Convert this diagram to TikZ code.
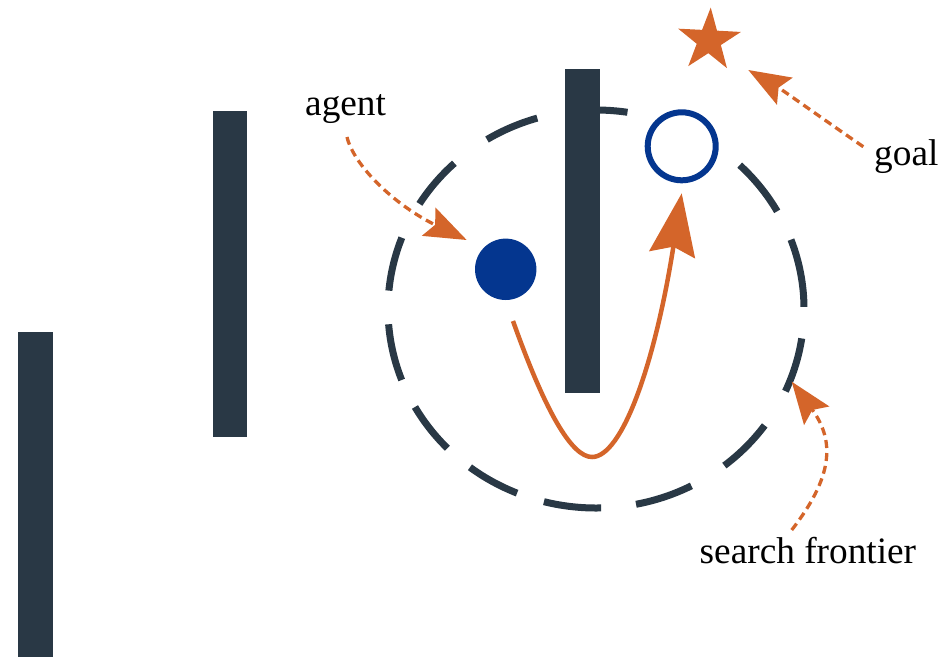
\documentclass[tikz,border=0pt]{standalone}
\usepackage{fontspec}
\setmainfont{Liberation Serif}
\usetikzlibrary{arrows.meta,shapes.geometric,calc}
\definecolor{wallcol}{HTML}{293845}
\definecolor{accent}{HTML}{D4652A}
\definecolor{agentblue}{HTML}{04368F}
\begin{document}
\begin{tikzpicture}[x=1pt,y=-1pt,
  wall/.style={fill=wallcol},
  frontier/.style={draw=wallcol,line width=7pt,line cap=butt},
  agentdot/.style={circle,fill=agentblue,minimum size=61.4pt,inner sep=0pt},
  goalring/.style={circle,draw=agentblue,fill=white,line width=6pt,minimum size=68pt,inner sep=0pt},
  goalstar/.style={star,star points=5,star point ratio=2.6,fill=accent,minimum size=66pt,inner sep=0pt,rotate=-3},
  lbl/.style={font=\fontsize{37.3}{44}\selectfont,inner sep=0pt,anchor=base west},
  route/.style={draw=accent,line width=4.5pt,-{Stealth[length=62pt,width=46pt,inset=8pt]}},
  annot/.style={draw=accent,line width=3.3pt,dash pattern=on 8pt off 5pt,-{Stealth[length=42pt,width=31pt,inset=7pt]}},
]
\useasboundingbox (0,0) rectangle (949,657);

% search frontier: dashes of an ellipse round the agent (angles in degrees)
\foreach \a/\b in {-20.4/-0.6, 8.5/24.4, 35.8/51.9, 62.7/78.9, 88.6/104.5,
                   112.3/127.3, 135.6/150.5, 159.1/175.6, 185.3/201, 211.9/227.1,
                   238.4/253.6, 263/278.7, 288.5/304, 313.7/330.6}
  \draw[frontier] plot[domain=\a:\b, samples=24, smooth] ({596+208*cos(\x)},{309+199*sin(\x)});

% walls
\fill[wall] (18.3,331.7) rectangle (52.7,657);
\fill[wall] (212.7,111) rectangle (247.3,436.7);
\fill[wall] (565,69) rectangle (600,393.3);

% agent, sub-goal and goal
\node[goalring] (goal) at (681.7,146.3) {};
\node[agentdot] (agent) at (505.7,269.3) {};
\node[goalstar] (star) at (709,40.5) {};

% labels
\node[lbl] (agentlbl) at (305,115) {agent};
\node[lbl] (goallbl) at (874,165) {goal};
\node[lbl] (frontierlbl) at (699.5,563.3) {search frontier};

% path around the wall
\draw[route] ($(agent.center)+(7.3,51.7)$) .. controls (545.3,411.7) and (571.7,457) .. (592,457)
  .. controls (622,457) and (655,364) .. ($(goal.center)+(0,47)$);

% annotation arrows
\coordinate (agentTail) at (347,137);
\coordinate (agentTip) at (466.7,240);
\coordinate (goalTail) at (863.3,146.7);
\coordinate (goalTip) at (748.3,70);
\coordinate (frontierTail) at (791.7,530);
\coordinate (frontierTip) at (791.7,381.7);
\draw[annot] (agentTail) .. controls (353.4,164.8) and (394,205) .. (agentTip);
\draw[annot] (goalTail) .. controls (833,126) and (781,89) .. (goalTip);
\draw[annot] (frontierTail) .. controls (832,478) and (836,442) .. (frontierTip);
\end{tikzpicture}
\end{document}
